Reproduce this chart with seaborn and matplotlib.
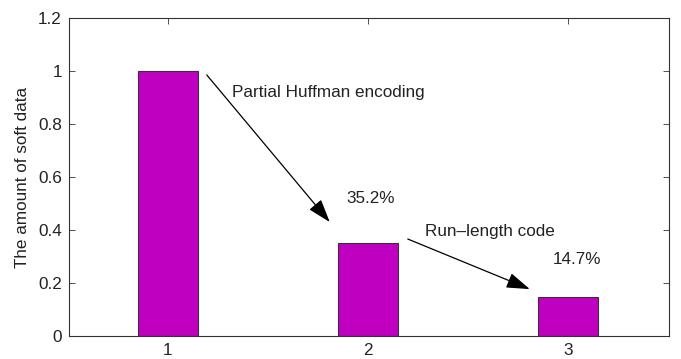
import matplotlib
matplotlib.use("Agg")
import matplotlib.pyplot as plt
import seaborn as sns
import pandas as pd

stages = ["1", "2", "3"]
amounts = [1.0, 0.352, 0.147]
pct_labels = ["35.2%", "14.7%"]
step_labels = ["Partial Huffman encoding", "Run\u2013length code"]
y_ticks = [0, 0.2, 0.4, 0.6, 0.8, 1, 1.2]
y_tick_labels = ["0", "0.2", "0.4", "0.6", "0.8", "1", "1.2"]

sns.set_theme(style="white")
plt.rcParams["font.family"] = ["Liberation Sans", "DejaVu Sans"]

df = pd.DataFrame({"stage": stages, "amount": amounts})

fig = plt.figure(figsize=(6.81, 3.59), dpi=100)
ax = fig.add_axes([0.101, 0.064, 0.881, 0.886])

sns.barplot(data=df, x="stage", y="amount", order=stages, color="#c000c0",
            saturation=1, width=0.3, edgecolor="#333333", linewidth=0.8, ax=ax)

ax.set_xlim(-0.495, 2.505)
ax.set_ylim(0, 1.2)
ax.set_yticks(y_ticks)
ax.set_yticklabels(y_tick_labels)
ax.set_xlabel("")
ax.set_ylabel("The amount of soft data", fontsize=12.3, color="#222222", labelpad=6)

for s in ax.spines.values():
    s.set_color("#333333")
    s.set_linewidth(0.8)
ax.tick_params(direction="in", length=4, width=0.6, colors="#333333",
               labelsize=12.3, labelcolor="#222222", top=True, right=True,
               left=True, bottom=True, pad=5)

# step annotations with arrows
ax.annotate("", xy=(0.81, 0.43), xytext=(0.195, 0.985),
            arrowprops=dict(arrowstyle="-|>,head_length=1.2,head_width=0.4",
                            color="black", lw=0.9, shrinkA=0, shrinkB=0))
ax.annotate("", xy=(1.81, 0.177), xytext=(1.2, 0.366),
            arrowprops=dict(arrowstyle="-|>,head_length=1.2,head_width=0.4",
                            color="black", lw=0.9, shrinkA=0, shrinkB=0))

fs = 12.3
ax.text(0.32, 0.917, step_labels[0], fontsize=fs, va="center", ha="left", color="#222222")
ax.text(0.895, 0.517, pct_labels[0], fontsize=fs, va="center", ha="left", color="#222222")
ax.text(1.285, 0.396, step_labels[1], fontsize=fs, va="center", ha="left", color="#222222")
ax.text(1.925, 0.287, pct_labels[1], fontsize=fs, va="center", ha="left", color="#222222")

fig.savefig("out.png", dpi=100)
